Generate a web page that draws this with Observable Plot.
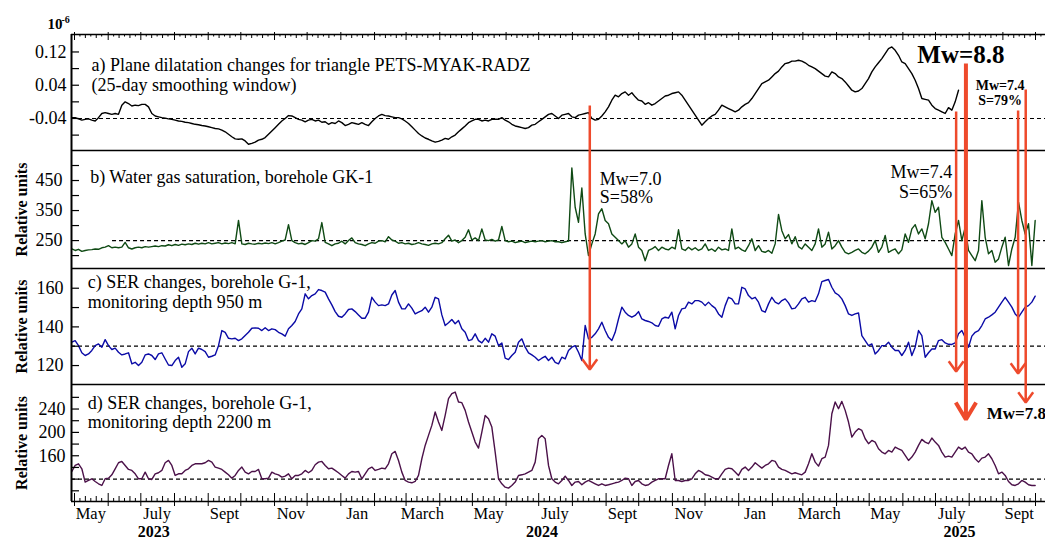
<!DOCTYPE html>
<html>
<head>
<meta charset="utf-8">
<script src="https://cdn.jsdelivr.net/npm/d3@7"></script>
<script src="https://cdn.jsdelivr.net/npm/@observablehq/plot@0.6"></script>
<style>
html,body{margin:0;padding:0;background:#fff;}
#chart{position:relative;width:1045px;height:540px;overflow:hidden;background:#fff;}
</style>
</head>
<body>
<div id="chart"></div>
<script>
// ================= DATA =================
const SERIES_START = "2023-04-25T11:32:00Z";   // sample index 0
const SAMPLE_STEP_DAYS = 3.0663;

// a) plane dilatation, 10^-6
const dilatation = [
-0.038,-0.038,-0.041,-0.044,-0.042,-0.041,-0.044,-0.046,-0.038,-0.028,
-0.026,-0.028,-0.030,-0.028,-0.030,-0.008,0.000,-0.004,-0.010,-0.008,
-0.009,-0.006,-0.006,-0.012,-0.028,-0.034,-0.036,-0.038,-0.039,-0.041,
-0.042,-0.044,-0.046,-0.047,-0.049,-0.050,-0.052,-0.054,-0.055,-0.057,
-0.058,-0.060,-0.062,-0.064,-0.065,-0.068,-0.072,-0.078,-0.084,-0.089,
-0.090,-0.089,-0.094,-0.102,-0.100,-0.097,-0.092,-0.090,-0.086,-0.078,
-0.070,-0.062,-0.054,-0.046,-0.040,-0.033,-0.034,-0.038,-0.042,-0.044,
-0.048,-0.044,-0.042,-0.046,-0.044,-0.049,-0.048,-0.054,-0.050,-0.052,
-0.046,-0.050,-0.057,-0.054,-0.050,-0.052,-0.054,-0.050,-0.054,-0.057,
-0.048,-0.040,-0.034,-0.030,-0.033,-0.034,-0.036,-0.038,-0.038,-0.041,
-0.046,-0.052,-0.060,-0.068,-0.076,-0.082,-0.087,-0.090,-0.094,-0.097,
-0.095,-0.092,-0.088,-0.090,-0.084,-0.080,-0.072,-0.065,-0.058,-0.050,
-0.046,-0.042,-0.042,-0.046,-0.044,-0.046,-0.042,-0.042,-0.042,-0.038,
-0.044,-0.048,-0.054,-0.058,-0.060,-0.062,-0.064,-0.062,-0.056,-0.054,
-0.048,-0.042,-0.036,-0.030,-0.028,-0.034,
-0.040,-0.032,-0.030,-0.028,-0.036,-0.038,-0.032,-0.030,-0.028,-0.026,
-0.040,-0.044,-0.042,-0.034,-0.024,-0.012,0.004,0.016,0.012,0.020,
0.024,0.016,0.022,0.012,0.004,0.002,-0.006,-0.002,-0.008,-0.004,
0.002,0.008,0.014,0.016,0.020,0.022,0.024,0.016,0.004,-0.008,
-0.020,-0.032,-0.044,-0.056,-0.048,-0.040,-0.034,-0.030,-0.020,-0.008,
-0.012,-0.016,-0.020,-0.024,-0.020,-0.012,-0.006,-0.002,0.008,0.020,
0.032,0.044,0.048,0.052,0.060,0.068,0.074,0.084,0.092,0.094,
0.098,0.098,0.100,0.098,0.094,0.088,0.084,0.080,0.074,0.068,
0.062,0.060,0.072,0.068,0.060,0.056,0.048,0.038,0.028,0.024,
0.026,0.032,0.044,0.056,0.072,0.084,0.094,0.104,0.116,0.128,
0.132,0.124,0.112,0.096,0.092,0.080,0.068,0.052,0.032,0.008,
0.006,0.004,-0.008,-0.016,-0.020,-0.024,-0.028,-0.014,-0.020,0.000,0.028
];

// b) water gas saturation, borehole GK-1 (relative units)
const gasSaturation = [
222,217,221,214,217,219,220,222,221,226,
228,233,226,228,226,228,244,226,222,226,
228,226,230,228,230,232,230,233,232,236,
233,237,234,238,236,239,237,241,238,241,
239,243,239,241,243,239,242,240,243,239,
317,239,237,241,239,238,241,239,242,240,
243,239,243,248,252,303,250,243,239,241,
237,243,250,248,256,310,244,239,233,239,
241,248,239,250,259,243,239,237,233,239,
243,241,248,250,246,263,252,248,241,243,
239,241,237,239,243,239,237,234,239,241,
239,243,256,268,248,252,243,250,261,286,
252,259,250,289,252,250,254,248,252,297,
250,246,248,243,246,248,243,246,248,246,
248,250,246,248,250,246,
246,243,246,248,492,361,311,425,272,200,
239,272,339,356,317,306,272,261,250,239,
250,228,239,272,228,217,183,217,222,230,
217,228,222,219,228,222,286,222,217,228,
219,226,217,222,239,217,222,214,228,219,
222,217,289,222,228,219,214,233,256,217,
233,214,211,217,208,239,337,283,256,270,
239,263,230,222,239,228,217,239,289,228,
239,278,222,233,250,228,211,206,
211,217,222,211,206,215,228,250,211,228,
267,211,217,222,206,219,272,244,289,303,
272,289,256,306,383,344,361,261,244,222,
200,272,317,250,294,217,200,183,217,383,
261,206,217,178,189,228,261,167,222,261,
378,317,272,306,167,317
];

// c) SER changes, borehole G-1, 950 m (relative units)
const ser950 = [
132.1,132.9,130.3,126.6,125.2,126.0,127.8,130.3,131.2,129.5,
133.4,130.3,128.3,129.0,126.9,125.5,126.0,126.6,120.9,121.7,
120.0,121.7,125.5,126.0,125.2,123.1,126.0,126.6,123.4,120.3,
120.0,122.6,124.3,119.1,120.9,127.2,129.0,126.0,129.0,128.3,
127.2,124.3,124.8,125.5,130.3,138.1,137.2,134.1,133.8,134.1,
132.9,133.8,135.5,137.2,139.3,139.5,139.3,138.1,139.6,138.1,
139.0,138.6,137.2,136.4,135.2,139.0,140.7,142.8,146.7,149.3,
157.1,154.5,156.2,157.1,159.3,158.8,158.0,154.5,151.4,147.9,
145.5,145.0,146.7,149.0,149.3,147.9,146.2,144.5,144.5,147.6,
155.3,152.8,151.0,151.4,151.0,151.9,156.5,158.8,152.8,149.3,
149.3,151.9,149.7,146.7,147.6,148.4,150.2,147.6,150.2,155.3,
154.5,146.2,140.7,142.1,143.8,141.6,143.3,139.0,137.2,132.9,
133.4,136.4,132.9,131.7,134.1,132.1,136.4,135.2,130.3,131.7,
123.8,123.1,125.2,126.9,132.1,133.8,129.5,126.6,125.5,124.3,
122.6,123.8,124.8,122.6,124.3,121.7,
120.9,124.3,123.4,127.8,129.5,130.3,126.9,122.6,140.7,133.8,
134.6,136.4,139.0,142.4,138.1,134.6,132.9,137.2,144.1,150.2,
147.6,145.9,145.0,145.9,147.9,144.1,143.3,142.8,142.1,140.7,
140.3,144.1,145.0,144.5,147.6,139.0,145.9,149.3,149.7,152.8,
151.9,153.6,153.6,152.8,151.0,152.8,151.0,149.7,146.7,145.0,
151.0,155.3,154.5,151.9,151.9,160.5,159.6,156.2,154.5,155.3,
152.8,148.4,147.6,151.9,155.3,152.8,151.9,153.6,154.5,152.4,
149.3,149.7,151.9,154.5,155.3,152.8,153.6,153.1,157.1,163.4,
164.0,164.5,160.5,157.6,156.5,154.5,151.0,146.7,145.9,146.7,
147.2,135.5,132.9,130.3,131.2,126.0,127.8,130.3,130.3,132.1,
129.5,127.8,127.8,125.2,127.8,132.1,125.2,129.5,138.1,135.5,
124.3,126.6,128.6,128.6,132.9,133.4,131.7,131.0,130.9,131.7,
136.4,138.1,134.6,129.5,135.2,137.2,138.1,140.7,144.1,145.0,
146.2,147.6,150.2,152.8,155.3,152.8,150.2,146.7,145.0,147.6,
150.2,151.0,152.8,155.9
];

// d) SER changes, borehole G-1, 2200 m (relative units)
const ser2200 = [
133.1,143.4,146.3,137.7,114.9,117.7,120.6,116.0,112.0,109.1,
120.6,121.7,127.4,137.7,148.0,150.3,143.4,136.6,134.9,129.1,
120.6,120.6,132.0,120.6,119.4,129.1,130.9,134.9,148.0,152.0,
143.4,126.3,129.1,129.1,134.9,137.7,143.4,146.3,146.3,146.3,
148.0,152.0,149.1,140.6,138.9,136.6,132.0,127.4,121.7,126.3,
134.9,140.6,132.0,129.1,133.1,133.1,136.6,120.6,120.6,121.7,
132.0,129.1,127.4,123.4,125.1,129.1,120.6,126.3,126.3,129.1,
134.9,130.9,134.9,144.6,149.1,150.3,143.4,137.7,138.9,134.9,
130.9,126.3,121.7,129.1,133.1,132.0,133.1,120.6,129.1,137.7,
140.6,134.9,136.6,138.9,137.7,146.3,163.4,167.4,152.0,132.0,
117.7,114.9,113.7,116.0,126.3,154.9,177.7,194.9,212.0,234.9,
217.7,203.4,229.1,257.7,266.3,269.1,252.0,250.9,237.7,217.7,
200.6,183.4,173.1,200.6,229.1,223.4,209.1,166.3,120.6,112.0,
106.3,104.6,109.1,114.9,126.3,127.4,129.1,132.0,134.9,149.1,
189.1,194.9,189.1,143.4,120.6,114.9,
112.0,117.7,125.1,117.7,109.1,114.9,116.0,110.3,114.9,117.7,
114.9,112.0,109.1,112.0,109.1,110.3,112.0,113.7,114.9,117.7,
121.7,120.6,109.1,116.0,117.7,112.0,109.1,110.3,114.9,117.7,
120.6,120.6,120.6,143.4,163.4,117.7,117.7,116.0,117.7,117.7,
120.6,129.1,134.9,132.0,127.4,126.3,123.4,120.6,120.6,129.1,
136.6,138.9,137.7,132.0,126.3,136.6,140.6,134.9,140.6,148.0,
143.4,138.9,143.4,146.3,152.0,150.3,140.6,136.6,134.9,132.0,
129.1,130.9,129.1,127.4,132.0,146.3,163.4,149.1,142.3,154.9,
157.7,177.7,232.0,252.0,240.6,253.1,237.7,217.7,192.0,200.6,
206.3,203.4,189.1,180.6,186.3,183.4,172.0,166.3,163.4,169.1,
166.3,174.9,172.0,169.1,160.6,152.0,157.7,166.3,177.7,188.0,
183.4,180.6,190.3,183.4,177.7,166.3,157.7,159.4,157.7,166.3,
174.9,170.9,174.9,166.3,163.4,154.9,149.1,156.0,157.7,163.4,
154.9,143.4,129.1,132.0,126.3,116.0,110.3,109.1,112.0,117.7,
114.9,110.3,109.1,109.1
];

// reference (dashed) levels
const dilatationRef = -0.04;
const gasRef = 250;
const gasRefStart = "2023-06-05";
const ser950Ref = 130;
const ser2200Ref = 120;

// earthquakes
const eventDates = ["2024-08-17", "2025-07-20", "2025-07-29", "2025-09-15", "2025-09-22"];
const eventMw = ["Mw=7.0", "Mw=7.4", "Mw=8.8", "Mw=7.4", "Mw=7.8"];
const eventS = ["S=58%", "S=65%", "", "S=79%", ""];

// axis labels
const monthLabelDates = ["2023-05-16","2023-07-16","2023-09-16","2023-11-16","2024-01-16","2024-03-16","2024-05-16","2024-07-16","2024-09-16","2024-11-16","2025-01-16","2025-03-16","2025-05-16","2025-07-16","2025-09-16"];
const monthLabelText = ["May","July","Sept","Nov","Jan","March","May","July","Sept","Nov","Jan","March","May","July","Sept"];
const yearLabelDates = ["2023-07-13", "2024-07-04", "2025-07-23"];
const yearLabelText = ["2023", "2024", "2025"];

const dilatationTicks = [-0.08, -0.04, 0, 0.04, 0.08, 0.12];
const dilatationLabels = [-0.04, 0.04, 0.12];
const gasTicks = [200, 250, 300, 350, 400, 450, 500];
const gasLabels = [250, 350, 450];
const ser950Ticks = [120, 130, 140, 150, 160];
const ser950Labels = [120, 140, 160];
const ser2200Ticks = [100, 120, 140, 160, 180, 200, 220, 240, 260];
const ser2200Labels = [160, 200, 240];

const titleA = "a) Plane dilatation changes for triangle PETS-MYAK-RADZ\n(25-day smoothing window)";
const titleB = "b) Water gas saturation, borehole GK-1";
const titleC = "c) SER changes, borehole G-1,\nmonitoring depth 950 m";
const titleD = "d) SER changes, borehole G-1,\nmonitoring depth 2200 m";
const yUnits = "Relative units";

// ================= LAYOUT =================
const W = 1045, ML = 71;
const INNER_W = W - ML;
const FONT = "Liberation Serif, Times New Roman, serif";
const X_DOMAIN = [new Date(Date.UTC(2023, 3, 28, 5, 46)), new Date(Date.UTC(2025, 9, 10, 4, 46))];
const X = {type: "utc", domain: X_DOMAIN, axis: null};
const RED = "#ee4a2c";

const t0 = new Date(SERIES_START).getTime();
const series = (values) => values.map((v, i) => ({date: new Date(t0 + (i + 1) * SAMPLE_STEP_DAYS * 864e5), value: v}));

// tick positions along time axis
const monthStarts = d3.utcMonth.range(new Date("2023-05-01"), new Date("2025-10-02"));
const minorShort = [], minorMid = [];
d3.utcMonth.range(new Date("2023-04-01"), new Date("2025-11-01")).forEach(m => {
  [6, 16, 26].forEach(d => minorShort.push(new Date(Date.UTC(m.getUTCFullYear(), m.getUTCMonth(), d))));
  [11, 21].forEach(d => minorMid.push(new Date(Date.UTC(m.getUTCFullYear(), m.getUTCMonth(), d))));
});
const inDomain = d => d >= X_DOMAIN[0] && d <= X_DOMAIN[1];
const shortTicks = minorShort.filter(inDomain), midTicks = minorMid.filter(inDomain);

const chart = document.getElementById("chart");
const svgStyle = (top) => `position:absolute;left:0;top:${top}px;background:transparent;overflow:visible;font-family:${FONT};color:#000;`;

function panel(o) {
  const mt = o.marginTop || 0, mb = o.marginBottom || 0;
  const marks = [
    Plot.ruleY([{y: o.ref, x1: o.refStart ? new Date(o.refStart) : X_DOMAIN[0], x2: X_DOMAIN[1]}],
      {y: "y", x1: "x1", x2: "x2", stroke: "#000", strokeWidth: 1.2, strokeDasharray: "4,3"}),
    Plot.line(o.data, {x: "date", y: "value", stroke: o.color, strokeWidth: 1.4}),
    Plot.ruleY([o.domain[0]], {stroke: "#000", strokeWidth: 1.6}),
    Plot.ruleX([X_DOMAIN[0]], {stroke: "#000", strokeWidth: 2}),
    Plot.tickY(o.ticks, {stroke: "#000", strokeWidth: 1.2, insetRight: INNER_W - 8}),
    Plot.axisY({ticks: o.labels, tickSize: 0, tickPadding: o.tickPadding, tickFormat: o.fmt,
      fontSize: 18, fontFamily: FONT, fill: "#000"}),
    Plot.text([o.title], {frameAnchor: "top-left", textAnchor: "start", lineAnchor: "top",
      dx: o.titleDx, dy: o.titleDy, lineHeight: o.titleLH || 1.1, fontSize: 18, fontFamily: FONT, fill: "#000"}),
    ...(o.units ? [Plot.text([yUnits], {frameAnchor: "left", dx: -50, rotate: -90, textAnchor: "middle",
      lineAnchor: "middle", fontSize: 16, fontWeight: "bold", fontFamily: FONT, fill: "#000"})] : []),
    ...(o.extra || [])
  ];
  const svg = Plot.plot({
    width: W, height: o.height, marginTop: mt, marginBottom: mb, marginLeft: ML, marginRight: 0,
    x: X, y: {domain: o.domain}, marks, style: svgStyle(o.top)
  });
  chart.appendChild(svg);
}

// ---- panel a ----
panel({
  top: 0, height: 150, marginTop: 34, domain: [-0.117, 0.162],
  data: series(dilatation), color: "#000", ref: dilatationRef,
  ticks: dilatationTicks, labels: dilatationLabels, fmt: d => d.toFixed(2), tickPadding: 5,
  title: titleA, titleDx: 20, titleDy: 22, titleLH: 1.11,
  extra: [
    Plot.ruleY([0.162], {stroke: "#000", strokeWidth: 1.4}),
    Plot.tickX(monthStarts, {stroke: "#000", strokeWidth: 1, insetTop: -2, insetBottom: 116 - 6}),
    Plot.tickX(midTicks, {stroke: "#000", strokeWidth: 1, insetBottom: 116 - 4}),
    Plot.tickX(shortTicks, {stroke: "#000", strokeWidth: 1, insetBottom: 116 - 2.5}),
    Plot.text(["10"], {frameAnchor: "top-left", textAnchor: "start", lineAnchor: "top", dx: -24, dy: -15.7,
      fontSize: 15, fontWeight: "bold", fontFamily: FONT, fill: "#000"}),
    Plot.text(["-6"], {frameAnchor: "top-left", textAnchor: "start", lineAnchor: "top", dx: -10, dy: -19,
      fontSize: 10, fontWeight: "bold", fontFamily: FONT, fill: "#000"})
  ]
});

// ---- panel b ----
panel({
  top: 150, height: 118, domain: [157, 550],
  data: series(gasSaturation), color: "#0f4a14", ref: gasRef, refStart: gasRefStart,
  ticks: gasTicks, labels: gasLabels, fmt: d => String(d), tickPadding: 9,
  title: titleB, titleDx: 18.7, titleDy: 18.9, units: true
});

// ---- panel c ----
panel({
  top: 268, height: 116, domain: [110.2, 170.2],
  data: series(ser950), color: "#0a0aa6", ref: ser950Ref,
  ticks: ser950Ticks, labels: ser950Labels, fmt: d => String(d), tickPadding: 8,
  title: titleC, titleDx: 16.3, titleDy: 4.9, titleLH: 1.11, units: true
});

// ---- panel d (with time axis) ----
panel({
  top: 384, height: 156, marginBottom: 39, domain: [81.7, 282],
  data: series(ser2200), color: "#4b1149", ref: ser2200Ref,
  ticks: ser2200Ticks, labels: ser2200Labels, fmt: d => String(d), tickPadding: 6,
  title: titleD, titleDx: 16.3, titleDy: 10.7, titleLH: 1.05, units: true,
  extra: [
    Plot.tickX(monthStarts, {stroke: "#000", strokeWidth: 1, insetTop: 117 - 8, insetBottom: -5}),
    Plot.tickX(midTicks, {stroke: "#000", strokeWidth: 1, insetTop: 117 - 5}),
    Plot.tickX(shortTicks, {stroke: "#000", strokeWidth: 1, insetTop: 117 - 3}),
    Plot.text(monthLabelDates.map((d, i) => ({date: new Date(d), label: monthLabelText[i]})),
      {x: "date", text: "label", frameAnchor: "bottom", lineAnchor: "top", dy: 5.8,
       fontSize: 16.5, fontFamily: FONT, fill: "#000"}),
    Plot.text(yearLabelDates.map((d, i) => ({date: new Date(d), label: yearLabelText[i]})),
      {x: "date", text: "label", frameAnchor: "bottom", lineAnchor: "top", dy: 24.1,
       fontSize: 16, fontWeight: "bold", fontFamily: FONT, fill: "#000"})
  ]
});

// ---- overlay: earthquake arrows and labels (y in page pixels) ----
const ARROW_GEOM = [
  {top: 105, tip: 369}, {top: 111, tip: 371}, {top: 63, tip: 419}, {top: 110, tip: 373}, {top: 89, tip: 402}
];
const ev = eventDates.map((d, i) => ({date: new Date(d), ...ARROW_GEOM[i],
  label: eventS[i] ? eventMw[i] + "\n" + eventS[i] : eventMw[i]}));
const thin = ev.filter((d, i) => i !== 2), thick = [ev[2]];
const lbl = (i, o) => Plot.text([ev[i]], {x: "date", y: () => o.y, text: "label", dx: o.dx,
  textAnchor: o.anchor, lineAnchor: "top", lineHeight: o.lh || 1, fontSize: o.size,
  fontWeight: o.weight || "normal", fontFamily: FONT, fill: "#000"});

const overlay = Plot.plot({
  width: W, height: 540, marginTop: 0, marginBottom: 0, marginLeft: ML, marginRight: 0,
  x: X, y: {domain: [0, 540], range: [0, 540], axis: null},
  marks: [
    Plot.arrow(thin, {x: "date", y1: "top", y2: "tip", stroke: RED, strokeWidth: 2.5,
      headAngle: 72, headLength: 7.6, strokeLinecap: "butt", strokeLinejoin: "miter"}),
    Plot.arrow(thick, {x: "date", y1: "top", y2: "tip", stroke: RED, strokeWidth: 4,
      headAngle: 62, headLength: 7.4, strokeLinecap: "butt", strokeLinejoin: "miter"}),
    lbl(0, {y: 172.2, dx: 10, anchor: "start", size: 18, lh: 1.0}),
    lbl(1, {y: 164, dx: -4, anchor: "end", size: 18, lh: 1.08}),
    lbl(2, {y: 44.3, dx: -5, anchor: "middle", size: 25, weight: "bold"}),
    lbl(3, {y: 79, dx: -18, anchor: "middle", size: 14, weight: "bold", lh: 1.07}),
    lbl(4, {y: 406, dx: -39, anchor: "start", size: 17, weight: "bold"})
  ],
  style: svgStyle(0) + "pointer-events:none;"
});
chart.appendChild(overlay);
</script>
</body>
</html>
